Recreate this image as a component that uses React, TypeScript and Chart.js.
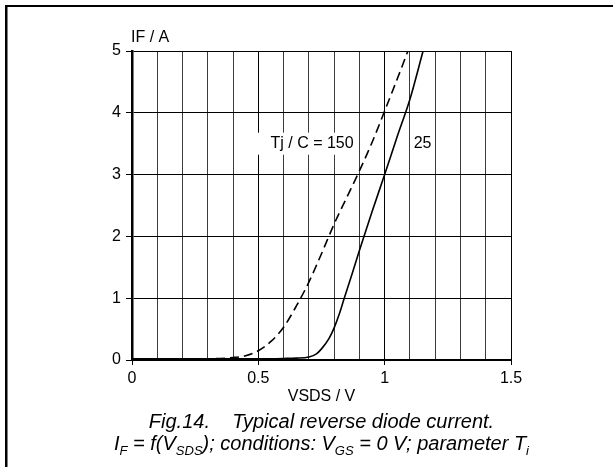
import { useEffect, useRef } from "react";
import { Chart, registerables } from "chart.js";

Chart.register(...registerables);

// ---- data ----
const solidV = [0, 0.3, 0.5, 0.6, 0.65, 0.7, 0.73, 0.75, 0.78, 0.8, 0.82, 0.84, 0.87, 0.9, 0.95, 1.0, 1.05, 1.1, 1.152];
const solidI = [0.02, 0.02, 0.02, 0.025, 0.03, 0.05, 0.1, 0.18, 0.35, 0.52, 0.74, 1.0, 1.38, 1.77, 2.4, 3.0, 3.62, 4.22, 5.0];
const dashedV = [0, 0.3, 0.4, 0.45, 0.5, 0.55, 0.6, 0.65, 0.7, 0.75, 0.8, 0.85, 0.9, 0.95, 1.0, 1.05, 1.092];
const dashedI = [0.02, 0.02, 0.04, 0.07, 0.15, 0.3, 0.53, 0.87, 1.26, 1.72, 2.2, 2.63, 3.06, 3.52, 4.03, 4.55, 5.0];

const xTickValues = [0, 0.5, 1, 1.5];
const xTickLabels = ["0", "0.5", "1", "1.5"];
const yTickLabels = ["0", "1", "2", "3", "4", "5"];

const yTitle = "IF / A";
const xTitle = "VSDS / V";
const annotationTexts = ["Tj / C = 150", "25"];
const annotationV = [0.548, 1.115];
const annotationI = [3.5, 3.5];

const captionLine1 = "Fig.14.    Typical reverse diode current.";
const captionLine2: { t: string; sub?: boolean }[] = [
  { t: "I" },
  { t: "F", sub: true },
  { t: " = f(V" },
  { t: "SDS", sub: true },
  { t: "); conditions: V" },
  { t: "GS", sub: true },
  { t: " = 0 V; parameter T" },
  { t: "i", sub: true },
];

const FONT = "'Liberation Sans', Arial, sans-serif";

const isLabeled = (v: number) => xTickValues.some((t) => Math.abs(t - v) < 1e-6);

const textPlugin = {
  id: "texts",
  beforeDraw(chart: any) {
    const ctx = chart.ctx as CanvasRenderingContext2D;
    ctx.save();
    ctx.fillStyle = "#000";
    // frame
    ctx.fillRect(5, 5, 2.5, 470);
    ctx.fillRect(5, 5, 620, 2);
    ctx.restore();
  },
  afterDraw(chart: any) {
    const ctx = chart.ctx as CanvasRenderingContext2D;
    const area = chart.chartArea;
    const xs = chart.scales.x;
    const ys = chart.scales.y;
    ctx.save();
    ctx.fillStyle = "#000";
    ctx.textBaseline = "middle";
    ctx.font = `16px ${FONT}`;
    ctx.textAlign = "left";
    ctx.fillText(yTitle, area.left - 1, area.top - 13);
    ctx.textAlign = "center";
    ctx.fillText(xTitle, (area.left + area.right) / 2, 397);
    ctx.textAlign = "left";
    annotationTexts.forEach((t, i) => {
      const x = xs.getPixelForValue(annotationV[i]);
      const y = ys.getPixelForValue(annotationI[i]);
      const w = ctx.measureText(t).width;
      ctx.fillStyle = "#fff";
      ctx.fillRect(i === 0 ? x - 14 : x - 1, y - 11, w + (i === 0 ? 16 : 2), 22);
      ctx.fillStyle = "#000";
      ctx.fillText(t, x, y);
    });

    // caption
    const cx = (area.left + area.right) / 2;
    const mainFont = `italic 20px ${FONT}`;
    const subFont = `italic 13px ${FONT}`;
    ctx.textBaseline = "alphabetic";
    ctx.textAlign = "center";
    ctx.font = mainFont;
    ctx.fillText(captionLine1, cx, 428);

    let total = 0;
    const widths = captionLine2.map((p) => {
      ctx.font = p.sub ? subFont : mainFont;
      const w = ctx.measureText(p.t).width;
      total += w;
      return w;
    });
    let x = cx - total / 2;
    ctx.textAlign = "left";
    captionLine2.forEach((p, i) => {
      ctx.font = p.sub ? subFont : mainFont;
      ctx.fillText(p.t, x, p.sub ? 455 : 450);
      x += widths[i];
    });
    ctx.restore();
  },
};

export default function App() {
  const ref = useRef<HTMLCanvasElement | null>(null);

  useEffect(() => {
    if (!ref.current) return;
    const chart = new Chart(ref.current, {
      type: "line",
      data: {
        datasets: [
          {
            label: "25",
            data: solidV.map((v, i) => ({ x: v, y: solidI[i] })),
            borderColor: "#000",
            borderWidth: 1.6,
            pointRadius: 0,
            cubicInterpolationMode: "monotone",
            fill: false,
          },
          {
            label: "150",
            data: dashedV.map((v, i) => ({ x: v, y: dashedI[i] })),
            borderColor: "#000",
            borderWidth: 1.6,
            borderDash: [9, 5],
            pointRadius: 0,
            cubicInterpolationMode: "monotone",
            fill: false,
          },
        ],
      },
      options: {
        responsive: false,
        animation: false,
        layout: { padding: { left: 0, right: 102, top: 51, bottom: 67 } },
        plugins: { legend: { display: false }, tooltip: { enabled: false } },
        scales: {
          x: {
            type: "linear",
            min: 0,
            max: 1.5,
            ticks: {
              stepSize: 0.1,
              autoSkip: false,
              maxRotation: 0,
              padding: 4,
              color: "#000",
              font: { family: FONT, size: 16 },
              callback: (value: any) => {
                const idx = xTickValues.findIndex((t) => Math.abs(t - Number(value)) < 1e-6);
                return idx >= 0 ? xTickLabels[idx] : "";
              },
            },
            grid: {
              color: (c: any) => (c.tick && isLabeled(c.tick.value) ? "#000" : "#3c3c3c"),
              lineWidth: 1,
              tickLength: 5,
              tickColor: (c: any) => (c.tick && isLabeled(c.tick.value) ? "#000" : "rgba(0,0,0,0)"),
            },
            border: { color: "#000", width: 2 },
            afterFit: (s: any) => {
              s.height = 40;
            },
          },
          y: {
            min: 0,
            max: 5,
            ticks: {
              stepSize: 1,
              padding: 5,
              color: "#000",
              font: { family: FONT, size: 16 },
              callback: (value: any) => yTickLabels[Math.round(Number(value))] ?? "",
            },
            grid: { color: "#000", lineWidth: 1, tickLength: 6, tickColor: "#000" },
            border: { color: "#000", width: 2.5 },
            afterFit: (s: any) => {
              s.width = 132;
            },
          },
        },
      } as any,
      plugins: [textPlugin],
    });
    return () => chart.destroy();
  }, []);

  return (
    <div style={{ position: "fixed", left: 0, top: 0, width: 613, height: 467, background: "#fff" }}>
      <canvas ref={ref} width={613} height={467} style={{ display: "block" }} />
    </div>
  );
}
